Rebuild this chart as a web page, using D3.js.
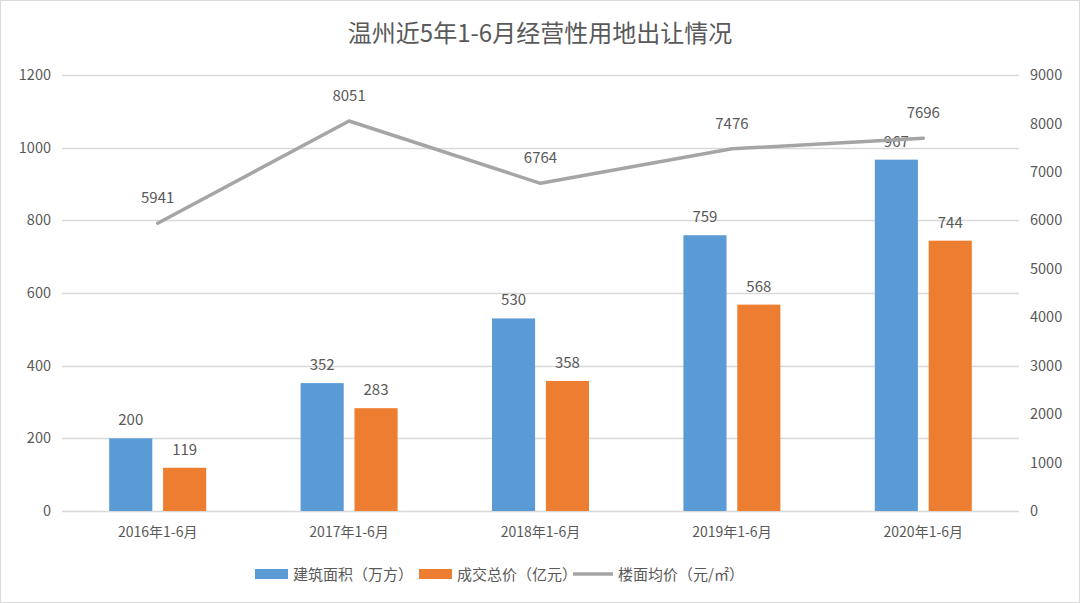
<!DOCTYPE html>
<html>
<head>
<meta charset="utf-8">
<script src="https://cdn.jsdelivr.net/npm/d3@7"></script>
<style>
  html, body { margin: 0; padding: 0; background: #fff; }
  svg text { font-family: "Noto Sans CJK SC", "Noto Sans", sans-serif; fill: #595959; }
</style>
</head>
<body>
<div id="chart"></div>
<script>
// data
var categories = ["2016年1-6月", "2017年1-6月", "2018年1-6月", "2019年1-6月", "2020年1-6月"];
var areaVals = [200, 352, 530, 759, 967];      // 建筑面积（万方）
var priceVals = [119, 283, 358, 568, 744];     // 成交总价（亿元）
var avgVals = [5941, 8051, 6764, 7476, 7696];  // 楼面均价（元/㎡）
var leftTicks = [0, 200, 400, 600, 800, 1000, 1200];
var rightTicks = [0, 1000, 2000, 3000, 4000, 5000, 6000, 7000, 8000, 9000];
var seriesNames = ["建筑面积（万方）", "成交总价（亿元）", "楼面均价（元/㎡）"];
var colors = ["#5B9BD5", "#ED7D31", "#A5A5A5"];

var width = 1080, height = 603;
var plot = {left: 62, right: 1019, top: 75, bottom: 511};

var svg = d3.select("#chart").append("svg")
  .attr("width", width)
  .attr("height", height);

svg.append("rect")
  .attr("x", 0.5).attr("y", 0.5)
  .attr("width", width - 1).attr("height", height - 1)
  .attr("fill", "#fff").attr("stroke", "#d9d9d9");

// title
svg.append("text")
  .attr("x", 540).attr("y", 42)
  .attr("text-anchor", "middle")
  .style("font-size", "24px")
  .text("温州近5年1-6月经营性用地出让情况");

var x0 = d3.scaleBand().domain(categories).range([plot.left, plot.right]);
var x1 = d3.scaleBand().domain([0, 1]).range([0, 97]).paddingInner(0.2);
var yL = d3.scaleLinear().domain([0, 1200]).range([plot.bottom, plot.top]);
var yR = d3.scaleLinear().domain([0, 9000]).range([plot.bottom, plot.top]);

// gridlines
svg.append("g").selectAll("line")
  .data(leftTicks).enter().append("line")
  .attr("x1", plot.left).attr("x2", plot.right)
  .attr("y1", function(d) { return Math.round(yL(d)) + 0.5; })
  .attr("y2", function(d) { return Math.round(yL(d)) + 0.5; })
  .attr("stroke", "#d9d9d9").attr("stroke-width", 1.3);

// left axis
var leftAxis = svg.append("g")
  .attr("transform", "translate(" + (plot.left - 11) + ",0)")
  .call(d3.axisLeft(yL).tickValues(leftTicks).tickFormat(d3.format("d")).tickSize(0).tickPadding(0));
leftAxis.select(".domain").remove();
leftAxis.selectAll("text").style("font-size", "14.5px").attr("fill", "#595959");

// right axis
var rightAxis = svg.append("g")
  .attr("transform", "translate(" + (plot.right + 11) + ",0)")
  .call(d3.axisRight(yR).tickValues(rightTicks).tickFormat(d3.format("d")).tickSize(0).tickPadding(0));
rightAxis.select(".domain").remove();
rightAxis.selectAll("text").style("font-size", "14.5px").attr("fill", "#595959");

// x labels
svg.append("g").selectAll("text")
  .data(categories).enter().append("text")
  .attr("x", function(d) { return x0(d) + x0.bandwidth() / 2; })
  .attr("y", 537)
  .attr("text-anchor", "middle")
  .style("font-size", "14px")
  .text(function(d) { return d; });

// bars
var barSeries = [areaVals, priceVals];
barSeries.forEach(function(vals, s) {
  var g = svg.append("g");
  g.selectAll("rect")
    .data(vals).enter().append("rect")
    .attr("x", function(d, i) { return x0(categories[i]) + x0.bandwidth() / 2 - 48.5 + x1(s); })
    .attr("y", function(d) { return yL(d); })
    .attr("width", x1.bandwidth())
    .attr("height", function(d) { return yL(0) - yL(d); })
    .attr("fill", colors[s]);
  g.selectAll("text")
    .data(vals).enter().append("text")
    .attr("x", function(d, i) { return x0(categories[i]) + x0.bandwidth() / 2 - 48.5 + x1(s) + x1.bandwidth() / 2; })
    .attr("y", function(d) { return yL(d) - 13; })
    .attr("text-anchor", "middle")
    .style("font-size", "15px")
    .attr("fill", "#404040")
    .text(function(d) { return d; });
});

// line
var line = d3.line()
  .x(function(d, i) { return x0(categories[i]) + x0.bandwidth() / 2; })
  .y(function(d) { return yR(d); });
svg.append("path")
  .datum(avgVals)
  .attr("d", line)
  .attr("fill", "none")
  .attr("stroke", colors[2])
  .attr("stroke-width", 3.5)
  .attr("stroke-linejoin", "round")
  .attr("stroke-linecap", "round");
svg.append("g").selectAll("text")
  .data(avgVals).enter().append("text")
  .attr("x", function(d, i) { return x0(categories[i]) + x0.bandwidth() / 2; })
  .attr("y", function(d) { return yR(d) - 20; })
  .attr("text-anchor", "middle")
  .style("font-size", "15px")
  .attr("fill", "#404040")
  .text(function(d) { return d; });

// legend
var legend = svg.append("g");
var legItems = [
  {x: 255, type: "rect"},
  {x: 419, type: "rect"},
  {x: 573, type: "line"}
];
legItems.forEach(function(it, i) {
  if (it.type === "rect") {
    legend.append("rect")
      .attr("x", it.x).attr("y", 569)
      .attr("width", 33).attr("height", 10)
      .attr("fill", colors[i]);
  } else {
    legend.append("line")
      .attr("x1", it.x).attr("x2", it.x + 40)
      .attr("y1", 574).attr("y2", 574)
      .attr("stroke", colors[i]).attr("stroke-width", 3.5);
  }
  legend.append("text")
    .attr("x", it.x + (it.type === "rect" ? 38 : 45))
    .attr("y", 580)
    .style("font-size", "15px")
    .text(seriesNames[i]);
});
</script>
</body>
</html>
